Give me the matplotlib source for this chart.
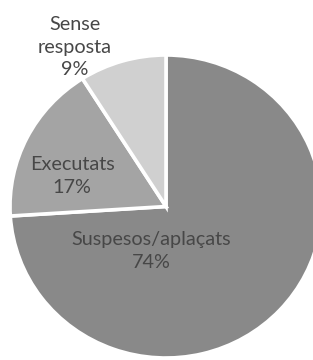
import matplotlib.pyplot as plt

categories = ["Suspesos/aplaçats", "Executats", "Sense resposta"]
shares = [74, 17, 9]
colors = ["#898989", "#a4a4a4", "#d0d0d0"]

plt.rcParams["font.family"] = ["Lato", "DejaVu Sans"]

W, H = 313, 360
fig = plt.figure(figsize=(W / 100, H / 100), dpi=100)
fig.patch.set_facecolor("white")

# pie is a bit squashed vertically and runs off the right edge
cx, cy, rx, ry = 166, 206.5, 156, 151.5
ax = fig.add_axes([(cx - rx) / W, (H - cy - ry) / H, 2 * rx / W, 2 * ry / H])
ax.pie(
    shares,
    colors=colors,
    startangle=90,
    counterclock=False,
    wedgeprops={"edgecolor": "white", "linewidth": 2.6},
)
ax.set_xlim(-1, 1)
ax.set_ylim(-1, 1)
ax.set_aspect("auto")
ax.axis("off")

# label centres in pixels of the original picture
label_px = [(151, 251), (72, 176), (75, 47)]
for name, pct, (px, py) in zip(categories, shares, label_px):
    text = name.replace(" ", "\n") + f"\n{pct}%"
    ax.text((px - cx) / rx, (cy - py) / ry, text, ha="center", va="center",
            fontsize=14.3, color="#474747", linespacing=1.42)

fig.savefig("out.png", dpi=100)
